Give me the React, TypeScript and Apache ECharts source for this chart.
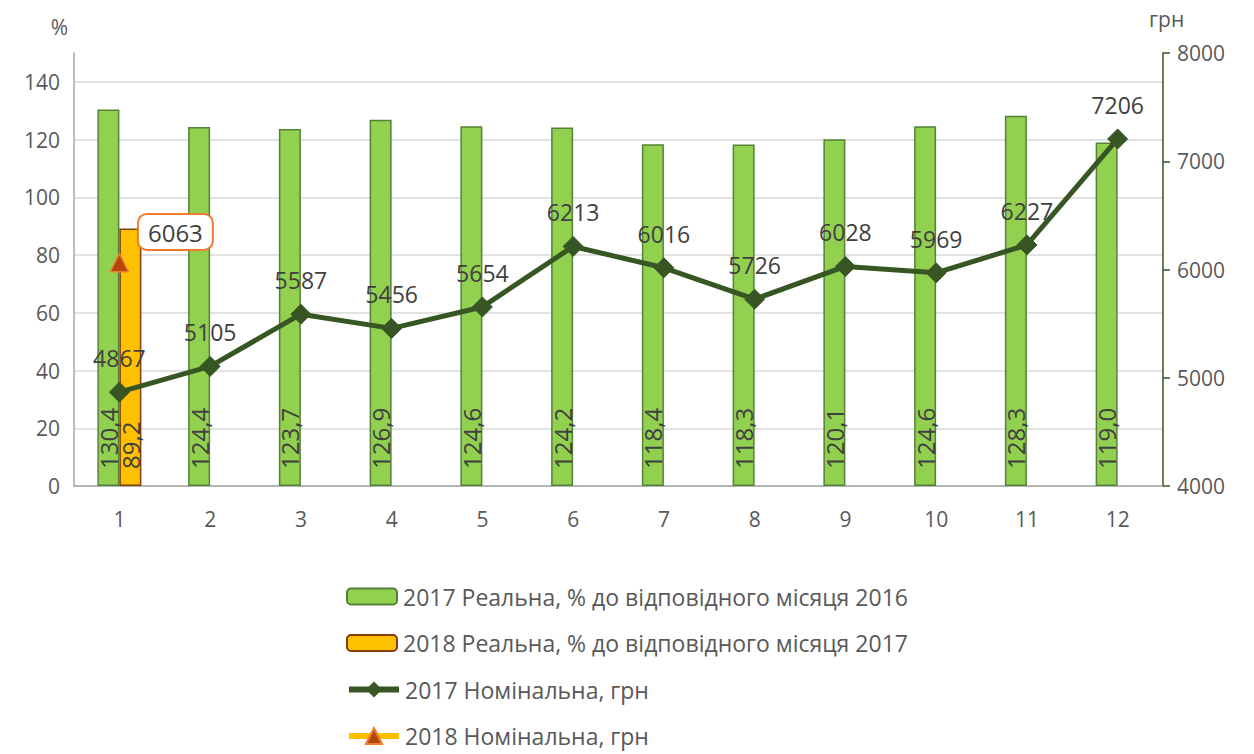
import React, { useEffect, useRef } from "react";
import * as echarts from "echarts";

const months = ["1", "2", "3", "4", "5", "6", "7", "8", "9", "10", "11", "12"];
const real2017 = [130.4, 124.4, 123.7, 126.9, 124.6, 124.2, 118.4, 118.3, 120.1, 124.6, 128.3, 119.0];
const real2018: (number | null)[] = [89.2, null, null, null, null, null, null, null, null, null, null, null];
const nominal2017 = [4867, 5105, 5587, 5456, 5654, 6213, 6016, 5726, 6028, 5969, 6227, 7206];
const nominal2018: (number | null)[] = [6063, null, null, null, null, null, null, null, null, null, null, null];

const names = [
  "2017 Реальна, % до відповідного місяця 2016",
  "2018 Реальна, % до відповідного місяця 2017",
  "2017 Номінальна, грн",
  "2018 Номінальна, грн",
];

const FONT = "Open Sans";

export default function App() {
  const ref = useRef<HTMLDivElement>(null);
  useEffect(() => {
    document.body.style.margin = "0";
    const chart = echarts.init(ref.current!, null, { renderer: "svg" });
    const barLabel = {
      show: true,
      position: "insideBottom",
      distance: 17,
      rotate: 90,
      align: "left",
      verticalAlign: "middle",
      fontSize: 24,
      fontFamily: FONT,
      color: "#404040",
      formatter: (p: any) => String(p.value.toFixed(1)).replace(".", ","),
    };
    const legendItems: any[] = [
      { name: names[0] },
      { name: names[1] },
      { name: names[2], lineStyle: { width: 6 }, itemStyle: { borderWidth: 0 } },
      { name: names[3], lineStyle: { width: 6 } },
    ];
    chart.setOption({
      animation: false,
      textStyle: { fontFamily: FONT },
      grid: { left: 74, right: 91, top: 53, bottom: 268, containLabel: false },
      legend: legendItems.map((it, i) => ({
        orient: "horizontal",
        left: 346,
        top: 585 + i * 46.5,
        itemWidth: 50,
        itemHeight: i < 2 ? 16 : 20,
        itemGap: 10,
        padding: 0,
        textStyle: { fontSize: 23, lineHeight: 22, fontFamily: FONT, color: "#595959", padding: [0, 0, 0, 1] },
        data: [it],
      })),
      xAxis: {
        type: "category",
        data: months,
        axisLine: { lineStyle: { color: "#A6A6A6", width: 1.5 } },
        axisTick: { show: false },
        axisLabel: { fontSize: 21, color: "#595959", margin: 22, fontFamily: FONT },
      },
      yAxis: [
        {
          type: "value",
          min: 0,
          max: 150,
          interval: 20,
          name: "%",
          nameLocation: "end",
          nameGap: 16,
          nameTextStyle: { fontSize: 21, color: "#595959", align: "right", padding: [0, 6, 0, 0], fontFamily: FONT },
          axisLine: { show: true, lineStyle: { color: "#A6A6A6", width: 1.5 } },
          axisTick: { show: false },
          axisLabel: { fontSize: 21, color: "#595959", margin: 14, showMaxLabel: false, fontFamily: FONT },
          splitLine: { show: true, showMaxLine: false, lineStyle: { color: "#D9D9D9", width: 1.5 } },
        },
        {
          type: "value",
          min: 4000,
          max: 8000,
          interval: 1000,
          name: "грн",
          nameLocation: "end",
          nameGap: 24,
          nameTextStyle: { fontSize: 21, color: "#595959", align: "left", padding: [0, 0, 0, -14], fontFamily: FONT },
          axisLine: { show: true, lineStyle: { color: "#375623", width: 1.5 } },
          axisTick: { show: true, length: 7, lineStyle: { color: "#375623", width: 1.5 } },
          axisLabel: { fontSize: 21, color: "#595959", margin: 14, fontFamily: FONT, formatter: (v: number) => String(v) },
          splitLine: { show: false },
        },
      ],
      series: [
        {
          name: names[0],
          type: "bar",
          data: real2017,
          barWidth: 22,
          barGap: "0%",
          itemStyle: { color: "#92D050", borderColor: "#548235", borderWidth: 1.5 },
          label: barLabel,
          z: 2,
        },
        {
          name: names[1],
          type: "bar",
          data: real2018,
          barWidth: 22,
          barGap: "0%",
          itemStyle: { color: "#FFC000", borderColor: "#843C0C", borderWidth: 1.5 },
          label: barLabel,
          z: 2,
        },
        {
          name: names[2],
          type: "line",
          yAxisIndex: 1,
          data: nominal2017,
          symbol: "diamond",
          symbolSize: 20,
          lineStyle: { color: "#375623", width: 5 },
          itemStyle: { color: "#375623", borderColor: "#375623" },
          label: {
            show: true,
            position: "top",
            distance: 12,
            fontSize: 23,
            fontFamily: FONT,
            color: "#404040",
          },
          z: 5,
        },
        {
          name: names[3],
          type: "line",
          yAxisIndex: 1,
          data: nominal2018,
          symbol: "triangle",
          symbolSize: 18,
          lineStyle: { color: "#FFC000", width: 5 },
          itemStyle: { color: "#B4470C", borderColor: "#ED7D31", borderWidth: 1.5 },
          label: {
            show: true,
            position: "top",
            distance: 4,
            offset: [56, 0],
            fontSize: 24,
            fontFamily: FONT,
            color: "#404040",
            backgroundColor: "#FFFFFF",
            borderColor: "#ED7D31",
            borderWidth: 2,
            borderRadius: 8,
            padding: [6, 9, 4, 9],
          },
          z: 6,
        },
      ],
    });
    return () => chart.dispose();
  }, []);
  return <div ref={ref} style={{ width: 1254, height: 754 }} />;
}
